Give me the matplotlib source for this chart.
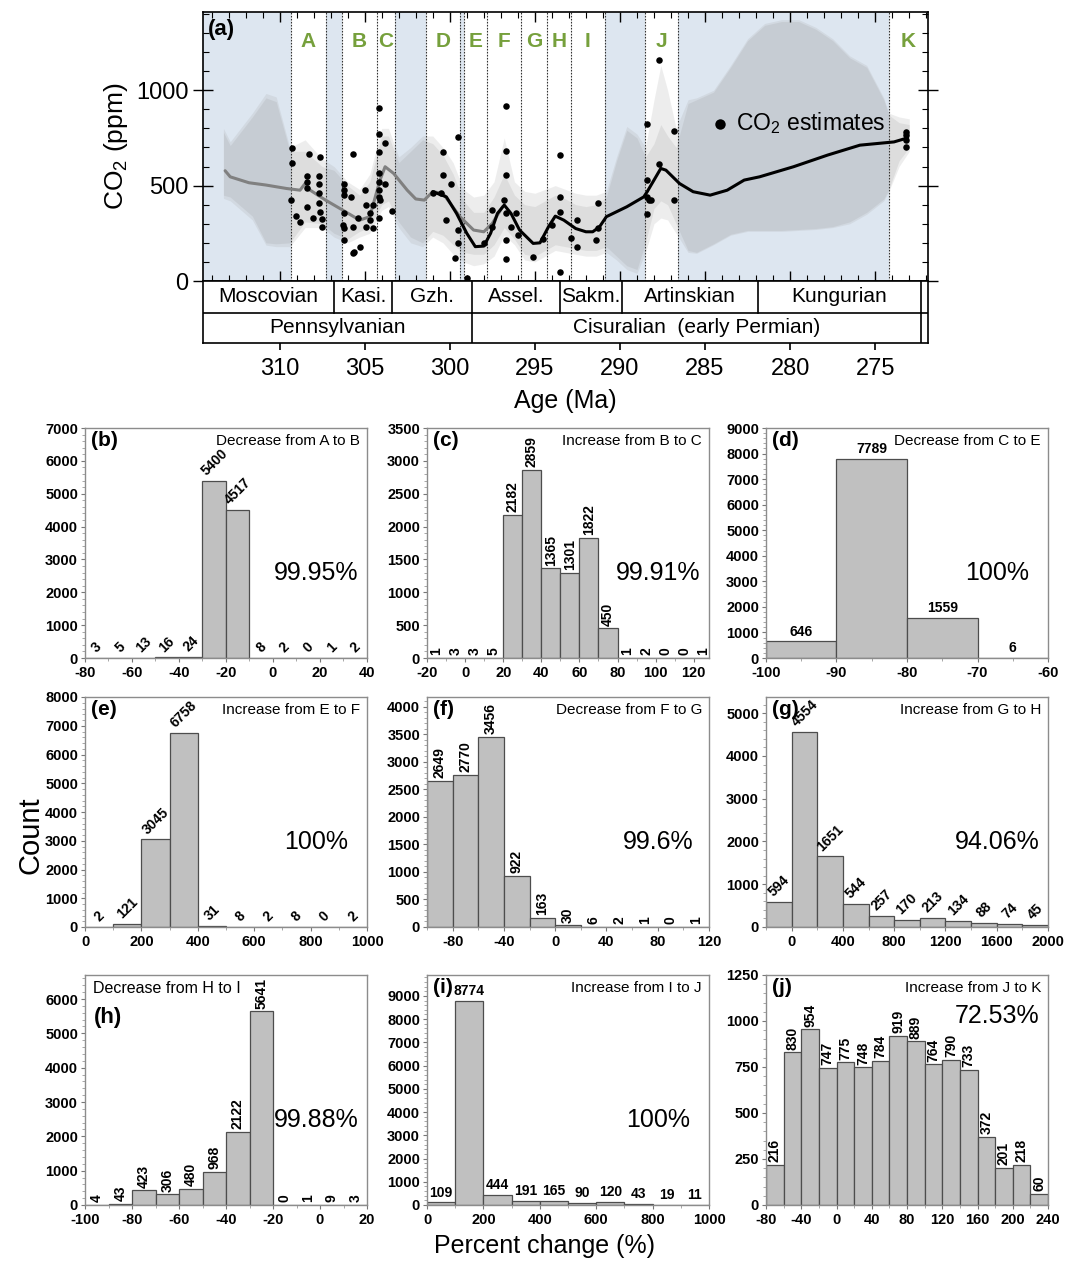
import matplotlib
matplotlib.use('Agg')
import matplotlib.pyplot as plt
import matplotlib.transforms as mtransforms
from matplotlib.ticker import MultipleLocator

plt.rcParams['font.family'] = ['Liberation Sans', 'DejaVu Sans']
plt.rcParams['mathtext.fontset'] = 'custom'
plt.rcParams['mathtext.rm'] = 'Liberation Sans'
plt.rcParams['axes.unicode_minus'] = False

# ---------------- Panel (a) data ----------------
window_labels = ['A', 'B', 'C', 'D', 'E', 'F', 'G', 'H', 'I', 'J', 'K']
window_start = [309.35, 306.35, 304.3, 301.4, 299.15, 297.8, 295.8, 294.3, 292.9, 288.5, 274.2]
window_end = [307.3, 304.3, 303.2, 299.4, 297.8, 295.8, 294.3, 292.9, 290.9, 286.6, 271.9]
blue_start = [314.5, 307.3, 303.2, 299.4, 290.9, 286.6]
blue_end = [309.35, 306.35, 301.4, 299.15, 288.5, 274.2]

stage_names = ['Moscovian', 'Kasi.', 'Gzh.', 'Assel.', 'Sakm.', 'Artinskian', 'Kungurian', '']
stage_bounds = [314.5, 306.8, 303.4, 298.7, 293.5, 289.9, 281.9, 272.3, 271.9]
epoch_names = ['Pennsylvanian', 'Cisuralian  (early Permian)', '']
epoch_bounds = [314.5, 298.7, 272.3, 271.9]

env_age = [313.3, 312.9, 311.6, 310.8, 310.2, 309.4, 308.5, 307.5, 306.8, 306.0, 305.3,
           304.7, 304.0, 303.6, 303.0, 302.3, 301.6, 301.0, 300.4, 299.8, 299.2, 298.6,
           298.0, 297.4, 296.8, 296.2, 295.6, 295.0, 294.4, 293.8, 293.2, 292.6, 292.0,
           291.4, 290.8, 290.2, 289.6, 289.0, 288.5, 288.0, 287.6, 287.2, 286.7, 286.0,
           285.5, 284.5, 283.5, 282.5, 281.5, 280.5, 279.5, 278.5, 277.5, 276.5, 275.5,
           274.5, 274.2, 273.6, 273.0]
env_hi_outer = [800, 730, 880, 983, 965, 700, 740, 640, 600, 520, 480,
                560, 800, 800, 650, 700, 760, 760, 700, 620, 480, 440,
                450, 520, 750, 520, 470, 460, 480, 500, 480, 460, 450,
                450, 470, 650, 810, 770, 700, 950, 1130, 1000, 800, 950,
                960, 1000, 1130, 1270, 1350, 1370, 1370, 1330, 1270, 1180, 1130,
                960, 880, 860, 850]
env_lo_outer = [433, 420, 320, 188, 180, 180, 280, 280, 230, 200, 230,
                250, 370, 390, 280, 200, 180, 230, 200, 140, 100, 80,
                90, 130, 240, 190, 110, 100, 130, 160, 150, 140, 130,
                130, 150, 110, 60, 40, 150, 300, 330, 320, 250, 150,
                145, 190, 240, 260, 260, 260, 265, 270, 280, 300, 350,
                420, 470, 600, 680]
env_hi_inner = [780, 710, 860, 960, 940, 680, 680, 600, 580, 500, 450,
                520, 760, 760, 620, 680, 740, 720, 660, 560, 420, 360,
                360, 440, 560, 450, 400, 390, 420, 450, 430, 400, 390,
                400, 440, 630, 790, 750, 650, 720, 820, 760, 700, 930,
                950, 990, 1120, 1260, 1340, 1360, 1360, 1320, 1260, 1170, 1120,
                950, 870, 830, 820]
env_lo_inner = [450, 440, 340, 200, 195, 200, 310, 300, 250, 220, 260,
                280, 400, 420, 310, 230, 200, 260, 240, 190, 150, 140,
                140, 190, 280, 220, 140, 130, 160, 190, 180, 170, 160,
                160, 180, 130, 80, 60, 200, 380, 420, 400, 300, 160,
                150, 195, 245, 265, 265, 265, 270, 275, 285, 310, 360,
                430, 480, 630, 700]

gray_age = [313.2, 312.9, 311.8, 310.8, 309.6, 308.8, 308.5, 308.2, 307.3, 306.3, 305.3,
            304.7, 304.1, 303.8, 303.3, 302.5, 302.0, 301.5, 301.0, 300.4, 299.4, 298.6,
            298.0, 297.5, 296.9]
gray_co2 = [578, 546, 515, 503, 485, 476, 511, 476, 424, 372, 319,
            337, 529, 599, 564, 476, 430, 424, 468, 459, 337, 267,
            258, 302, 389]

black_age = [301.0, 300.2, 299.6, 299.0, 298.5, 298.0, 297.6, 297.2, 296.8, 296.4, 295.9,
             295.1, 294.7, 294.2, 293.8, 293.3, 292.6, 292.0, 291.6, 291.2, 290.8, 289.6,
             288.6, 288.4, 288.0, 287.6, 287.3, 286.5, 285.7, 284.7, 283.7, 282.7, 281.8,
             279.8, 277.8, 275.9, 273.9, 273.1]
black_co2 = [468, 441, 354, 250, 180, 183, 250, 354, 398, 354, 267,
             197, 200, 284, 340, 319, 275, 258, 258, 284, 337, 389,
             441, 468, 529, 590, 581, 511, 468, 450, 476, 529, 546,
             599, 660, 712, 729, 750]

pt_age = [309.25, 309.25, 309.35, 309.06, 308.8, 308.3, 308.4, 308.4, 308.4, 308.4, 308.04,
          307.6, 307.7, 307.7, 307.7, 307.7, 307.6, 307.5, 307.5,
          306.2, 306.2, 306.2, 306.3, 306.2, 306.2, 306.2, 305.8, 305.7, 305.7, 305.7, 305.6,
          305.3, 305.4, 305.0, 304.9, 304.9, 304.7, 304.7, 304.5, 304.5,
          304.16, 304.16, 304.16, 304.16, 304.16, 304.16, 304.16, 304.16, 303.8, 303.8, 303.4, 304.1,
          301.0, 300.5, 300.4, 300.4, 300.2, 299.9, 299.5, 299.5, 299.5, 299.7, 299.0,
          298.0, 297.5, 297.5, 296.7, 296.7, 296.7, 296.7, 296.7, 296.7, 296.8, 296.1, 296.0, 296.4,
          295.1, 294.5, 294.0, 293.5, 293.5, 293.5, 293.5,
          292.9, 292.5, 292.5, 291.4, 291.3, 291.3,
          288.4, 288.4, 288.4, 288.3, 288.2, 288.4, 287.7, 287.7, 286.8, 286.8,
          273.2, 273.2, 273.2, 273.2]
pt_co2 = [695, 616, 424, 340, 311, 668, 551, 520, 485, 389, 328,
          651, 551, 511, 459, 407, 363, 323, 284,
          511, 476, 450, 293, 276, 215, 354, 441, 665, 284, 145, 154,
          180, 328, 476, 398, 284, 354, 319, 276, 398,
          909, 773, 677, 564, 520, 476, 441, 328, 721, 511, 368, 424,
          462, 462, 677, 555, 319, 511, 756, 267, 197, 119, 17,
          197, 372, 284, 916, 682, 555, 354, 215, 113, 424, 354, 241, 284,
          127, 218, 293, 660, 441, 363, 49,
          223, 319, 180, 215, 276, 407,
          822, 529, 441, 424, 424, 351, 1157, 611, 787, 424,
          782, 764, 738, 703]

# ---------------- Histogram data ----------------
b_bins = [-80, -70, -60, -50, -40, -30, -20, -10, 0, 10, 20, 30]
b_counts = [3, 5, 13, 16, 24, 5400, 4517, 8, 2, 0, 1, 2]
c_bins = [-20, -10, 0, 10, 20, 30, 40, 50, 60, 70, 80, 90, 100, 110, 120]
c_counts = [1, 3, 3, 5, 2182, 2859, 1365, 1301, 1822, 450, 1, 2, 0, 0, 1]
d_bins = [-100, -90, -80, -70]
d_counts = [646, 7789, 1559, 6]
e_bins = [0, 100, 200, 300, 400, 500, 600, 700, 800, 900]
e_counts = [2, 121, 3045, 6758, 31, 8, 2, 8, 0, 2]
f_bins = [-100, -80, -60, -40, -20, 0, 20, 40, 60, 80, 100]
f_counts = [2649, 2770, 3456, 922, 163, 30, 6, 2, 1, 0, 1]
g_bins = [-200, 0, 200, 400, 600, 800, 1000, 1200, 1400, 1600, 1800]
g_counts = [594, 4554, 1651, 544, 257, 170, 213, 134, 88, 74, 45]
h_bins = [-100, -90, -80, -70, -60, -50, -40, -30, -20, -10, 0, 10]
h_counts = [4, 43, 423, 306, 480, 968, 2122, 5641, 0, 1, 9, 3]
i_bins = [0, 100, 200, 300, 400, 500, 600, 700, 800, 900]
i_counts = [109, 8774, 444, 191, 165, 90, 120, 43, 19, 11]
j_bins = [-80, -60, -40, -20, 0, 20, 40, 60, 80, 100, 120, 140, 160, 180, 200, 220]
j_counts = [216, 830, 954, 747, 775, 748, 784, 919, 889, 764, 790, 733, 372, 201, 218, 60]

panel_letters = ['(b)', '(c)', '(d)', '(e)', '(f)', '(g)', '(h)', '(i)', '(j)']
panel_notes = ['Decrease from A to B', 'Increase from B to C', 'Decrease from C to E',
               'Increase from E to F', 'Decrease from F to G', 'Increase from G to H',
               'Decrease from H to I', 'Increase from I to J', 'Increase from J to K']
panel_pcts = ['99.95%', '99.91%', '100%', '100%', '99.6%', '94.06%', '99.88%', '100%', '72.53%']

# ---------------- Figure ----------------
W, H = 1065, 1261
fig = plt.figure(figsize=(W / 100, H / 100), dpi=100)


def px_axes(l, t, r, b):
    return fig.add_axes([l / W, 1 - b / H, (r - l) / W, (b - t) / H])


XL = (314.5, 271.9)
ax = px_axes(203, 12, 928, 281)
ax.set_xlim(*XL)
ax.set_ylim(0, 1410)

for s, e in zip(blue_start, blue_end):
    ax.axvspan(s, e, color='#dde6f0', lw=0, zorder=0)
ax.fill_between(env_age, env_lo_outer, env_hi_outer, color='#a0a0a0', alpha=0.18, lw=0, zorder=1)
ax.fill_between(env_age, env_lo_inner, env_hi_inner, color='#909090', alpha=0.17, lw=0, zorder=1)
ax.plot(gray_age, gray_co2, color='#808080', lw=2.2, zorder=3, solid_capstyle='round')
ax.plot(black_age, black_co2, color='black', lw=2.2, zorder=3, solid_capstyle='round')

bounds = sorted(set(window_start + window_end) - {XL[1]}, reverse=True)
for bx in bounds:
    ax.axvline(bx, color='#333333', lw=0.8, ls=(0, (1.5, 1.2)), zorder=2)

ax.scatter(pt_age, pt_co2, s=22, color='black', zorder=4, lw=0, label='CO$_2$ estimates')

for lab, s, e in zip(window_labels, window_start, window_end):
    ax.text((s + e) / 2, 1255, lab, color='#76a03c', fontsize=15, fontweight='bold',
            ha='center', va='center', zorder=5)
ax.text(314.2, 1375, '(a)', fontsize=16, fontweight='bold', ha='left', va='top', zorder=5)

leg = ax.legend(loc='center left', bbox_to_anchor=(0.685, 0.587), frameon=False,
                fontsize=16.5, handletextpad=0.2, markerscale=1.6, borderaxespad=0,
                handlelength=1.0)

ax.xaxis.set_major_locator(MultipleLocator(5))
ax.xaxis.set_minor_locator(MultipleLocator(1))
ax.tick_params(axis='x', which='both', top=True, bottom=True, direction='in', labelbottom=False)
ax.tick_params(axis='x', which='major', length=7, width=1)
ax.tick_params(axis='x', which='minor', length=4, width=0.8)
ax.set_yticks([0, 500, 1000])
ax.yaxis.set_minor_locator(MultipleLocator(100))
ax.tick_params(axis='y', which='both', left=True, right=True)
ax.tick_params(axis='y', which='major', direction='inout', length=14, width=1, labelsize=17)
ax.tick_params(axis='y', which='minor', direction='in', length=4, width=0.8)
ax.set_ylabel('CO$_2$ (ppm)', fontsize=19, labelpad=4)
for sp in ax.spines.values():
    sp.set_linewidth(1.2)

# timescale
ts = px_axes(203, 281, 928, 343)
ts.set_xlim(*XL)
ts.set_ylim(0, 1)
ts.set_yticks([])
trans = mtransforms.blended_transform_factory(ts.transData, ts.transAxes)
ymid = 0.49
ts.axhline(ymid, color='black', lw=1.2)
for xb in stage_bounds[1:-1]:
    ts.plot([xb, xb], [ymid, 1], color='black', lw=1.2, transform=trans)
for xb in epoch_bounds[1:-1]:
    ts.plot([xb, xb], [0, ymid], color='black', lw=1.2, transform=trans)
for name, s, e in zip(stage_names, stage_bounds[:-1], stage_bounds[1:]):
    ts.text((s + e) / 2, (ymid + 1) / 2, name, transform=trans, ha='center', va='center', fontsize=15)
for name, s, e in zip(epoch_names, epoch_bounds[:-1], epoch_bounds[1:]):
    ts.text((s + e) / 2, ymid / 2, name, transform=trans, ha='center', va='center', fontsize=15)
ts.set_xticks([310, 305, 300, 295, 290, 285, 280, 275])
ts.tick_params(axis='x', direction='out', length=5, width=1.2, labelsize=17, pad=6)
for sp in ts.spines.values():
    sp.set_linewidth(1.2)
ts.set_xlabel('Age (Ma)', fontsize=18, labelpad=6)

# ---------------- histograms ----------------
hist_specs = [
    (b_bins, 10, b_counts, 45, (-80, 40), 20, (0, 7000), 1000),
    (c_bins, 10, c_counts, 90, (-20, 128), 20, (0, 3500), 500),
    (d_bins, 10, d_counts, 0, (-100, -60), 10, (0, 9000), 1000),
    (e_bins, 100, e_counts, 45, (0, 1000), 200, (0, 8000), 1000),
    (f_bins, 20, f_counts, 90, (-100, 120), 40, (0, 4180), 500),
    (g_bins, 200, g_counts, 45, (-200, 2000), 400, (0, 5380), 1000),
    (h_bins, 10, h_counts, 90, (-100, 20), 20, (0, 6700), 1000),
    (i_bins, 100, i_counts, 0, (0, 1000), 200, (0, 9900), 1000),
    (j_bins, 20, j_counts, 90, (-80, 240), 40, (0, 1250), 250),
]
col_left = [85, 427, 766]
row_top = [428, 697, 975]
hw, hh = 282, 230

for k, (bins, wdt, cnts, rot, xl, xstep, yl, ystep) in enumerate(hist_specs):
    r, c = divmod(k, 3)
    l, t = col_left[c], row_top[r]
    hax = px_axes(l, t, l + hw, t + hh)
    hax.bar(bins, cnts, width=wdt, align='edge', color='#c0c0c0', edgecolor='#4d4d4d', lw=0.9)
    hax.set_xlim(*xl)
    hax.set_ylim(*yl)
    hax.xaxis.set_major_locator(MultipleLocator(xstep))
    hax.xaxis.set_minor_locator(MultipleLocator(xstep / 2))
    hax.yaxis.set_major_locator(MultipleLocator(ystep))
    hax.yaxis.set_minor_locator(MultipleLocator(ystep / 5))
    hax.tick_params(which='major', length=3, width=0.8, color='#777777', labelsize=10.5)
    hax.tick_params(axis='x', which='major', pad=3)
    hax.tick_params(axis='y', which='major', pad=2)
    hax.tick_params(which='minor', length=2, width=0.6, color='#999999')
    for lab in hax.get_xticklabels() + hax.get_yticklabels():
        lab.set_fontweight('bold')
    for sp in hax.spines.values():
        sp.set_color('#8c8c8c')
        sp.set_linewidth(1.0)
    for x0, v in zip(bins, cnts):
        hax.annotate(str(v), (x0 + wdt / 2, v), xytext=(0, 2), textcoords='offset points',
                     rotation=rot, ha='center', va='bottom', fontsize=10, fontweight='bold')
    if k == 6:
        hax.text(0.03, 0.975, panel_notes[k], transform=hax.transAxes, ha='left', va='top', fontsize=11.5)
        hax.text(0.03, 0.86, panel_letters[k], transform=hax.transAxes, ha='left', va='top',
                 fontsize=16, fontweight='bold')
    else:
        hax.text(0.975, 0.975, panel_notes[k], transform=hax.transAxes, ha='right', va='top', fontsize=11)
        hax.text(0.02, 0.985, panel_letters[k], transform=hax.transAxes, ha='left', va='top',
                 fontsize=15, fontweight='bold')
    py = 0.82 if k == 8 else 0.37
    hax.text(0.82, py, panel_pcts[k], transform=hax.transAxes, ha='center', va='center', fontsize=18)

fig.text(30 / W, 1 - 835 / H, 'Count', rotation=90, ha='center', va='center', fontsize=21)
fig.text(545 / W, 1 - 1246 / H, 'Percent change (%)', ha='center', va='center', fontsize=18)

fig.savefig('out.png', dpi=100)
